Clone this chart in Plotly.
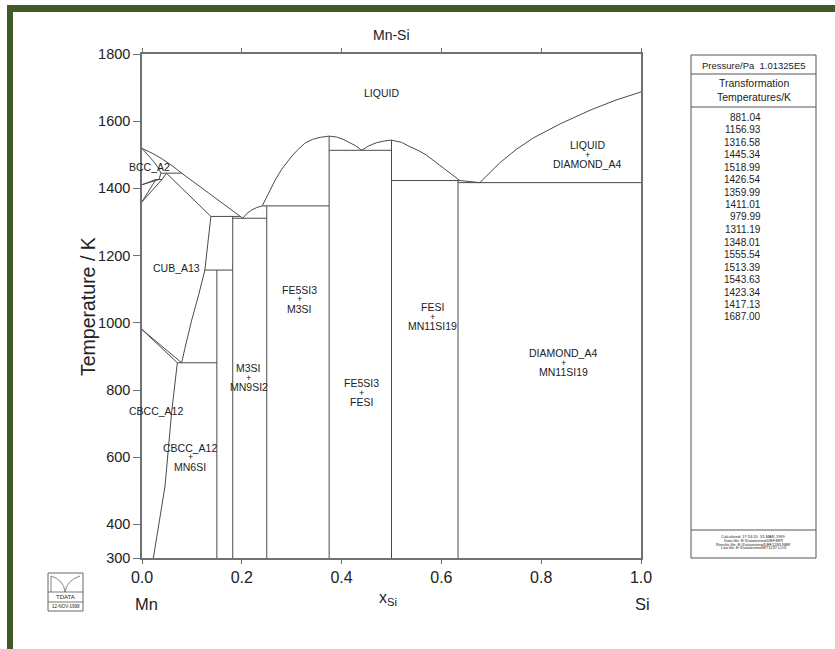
import plotly.graph_objects as go

# ---------------- data ----------------
x_ticks = [0.0, 0.2, 0.4, 0.6, 0.8, 1.0]
x_tick_labels = ["0.0", "0.2", "0.4", "0.6", "0.8", "1.0"]
y_ticks = [300, 400, 600, 800, 1000, 1200, 1400, 1600, 1800]

transformation_temps = ["881.04", "1156.93", "1316.58", "1445.34", "1518.99", "1426.54",
                        "1359.99", "1411.01", "979.99", "1311.19", "1348.01", "1555.54",
                        "1513.39", "1543.63", "1423.34", "1417.13", "1687.00"]

# stoichiometric compounds: composition and upper temperature
compound_x = [0.15, 0.1818, 0.25, 0.375, 0.5, 0.6333]
compound_top = [1156.93, 1316.58, 1348.01, 1555.54, 1543.63, 1423.34]

# invariant (horizontal) lines
inv_T = [881.04, 1156.93, 1316.58, 1311.19, 1348.01, 1513.39, 1423.34, 1417.13, 1445.34, 1426.54]
inv_x_left = [0.0708, 0.126, 0.138, 0.1818, 0.241, 0.375, 0.5, 0.6333, 0.038, 0.028]
inv_x_right = [0.15, 0.1818, 0.196, 0.25, 0.375, 0.5, 0.637, 1.0, 0.0795, 0.040]

# phase boundary curves
liq_mn_x = [0, 0.02, 0.04, 0.06, 0.0795, 0.10, 0.13, 0.16, 0.196, 0.202]
liq_mn_T = [1518.99, 1505, 1488, 1468, 1445.34, 1423, 1389, 1355, 1316.58, 1311.19]
liq_m3si_x = [0.202, 0.21, 0.22, 0.23, 0.241]
liq_m3si_T = [1311.19, 1325, 1336, 1343, 1348.01]
liq_m5s3_x = [0.241, 0.255, 0.267, 0.28, 0.297, 0.312, 0.327, 0.342, 0.357, 0.375,
              0.39, 0.403, 0.415, 0.428, 0.44]
liq_m5s3_T = [1348.01, 1390, 1425, 1457, 1490, 1515, 1535, 1546, 1552, 1555.54,
              1553, 1546, 1538, 1527, 1513.39]
liq_fesi_x = [0.44, 0.455, 0.47, 0.485, 0.5, 0.52, 0.537, 0.555, 0.57, 0.587, 0.604, 0.62, 0.637, 0.677]
liq_fesi_T = [1513.39, 1527, 1536, 1541, 1543.63, 1537, 1524, 1512, 1499, 1480, 1460, 1442, 1423.34, 1417.13]
liq_si_x = [0.677, 0.69, 0.70, 0.717, 0.75, 0.784, 0.838, 0.9, 0.95, 1.0]
liq_si_T = [1417.13, 1437, 1452, 1476, 1516, 1550, 1592, 1634, 1663, 1687.0]

bcc_sol_x = [0, 0.012, 0.024, 0.033, 0.038]
bcc_sol_T = [1518.99, 1500, 1479, 1460, 1445.34]
cub_sol_x = [0.049, 0.138]
cub_sol_T = [1445.34, 1316.58]
bcc_cub_x = [0.038, 0.034]
bcc_cub_T = [1445.34, 1426.54]
cub_left_x = [0.049, 0.040]
cub_left_T = [1445.34, 1426.54]
fcc1_x = [0, 0.028]
fcc1_T = [1359.99, 1426.54]
fcc2_x = [0, 0.040]
fcc2_T = [1359.99, 1426.54]
bccfcc1_x = [0, 0.034]
bccfcc1_T = [1411.01, 1426.54]
bccfcc2_x = [0, 0.028]
bccfcc2_T = [1411.01, 1426.54]
cub_solvus_x = [0.138, 0.132, 0.126, 0.113, 0.0996, 0.086, 0.0795]
cub_solvus_T = [1316.58, 1240, 1156.93, 1080, 1008, 924, 881.04]
cbcc_cub_up_x = [0, 0.0795]
cbcc_cub_up_T = [979.99, 881.04]
cbcc_cub_lo_x = [0, 0.0708]
cbcc_cub_lo_T = [979.99, 881.04]
cbcc_solvus_x = [0.0708, 0.0595, 0.046, 0.033, 0.0227]
cbcc_solvus_T = [881.04, 735, 512, 393, 300]

# region labels
single_text = ["LIQUID", "BCC_A2", "CUB_A13", "CBCC_A12"]
single_x = [0.479, 0.015, 0.0695, 0.0277]
single_T = [1684, 1465, 1162, 738]

pair_top = ["CBCC_A12", "M3SI", "FE5SI3", "FE5SI3", "FESI", "DIAMOND_A4", "LIQUID"]
pair_bottom = ["MN6SI", "MN9SI2", "M3SI", "FESI", "MN11SI19", "MN11SI19", "DIAMOND_A4"]
pair_x = [0.0968, 0.2144, 0.3166, 0.4389, 0.583, 0.8437, 0.8918]
pair_T = [601.5, 837.8, 1071, 794, 1020, 883, 1502]

info_lines = ["Calculated: 17:53:20  31-MAR-1999",
              "Data file: E:\\Datatesting\\DEF.MPI",
              "Results file: E:\\Datatesting\\DEF1283.NBR",
              "Log file: E:\\Datatesting\\MT1237.LOG"]

# ---------------- figure ----------------
W, H = 835, 649
L, R, T, B = 142, 641, 54, 558
FONT = "Liberation Sans, Arial, sans-serif"
LINE = "#4a4a4a"
AX = "#707070"


def P(px, py):
    return (px - L) / (R - L), (B - py) / (B - T)


fig = go.Figure()


def add(xs, ts):
    fig.add_trace(go.Scatter(x=xs, y=ts, mode="lines", line=dict(color=LINE, width=1),
                             hoverinfo="skip", showlegend=False))


for cx, ct in zip(compound_x, compound_top):
    add([cx, cx], [300, ct])
for t, a, b in zip(inv_T, inv_x_left, inv_x_right):
    add([a, b], [t, t])
for xs, ts in [(liq_mn_x, liq_mn_T), (liq_m3si_x, liq_m3si_T), (liq_m5s3_x, liq_m5s3_T),
               (liq_fesi_x, liq_fesi_T), (liq_si_x, liq_si_T), (bcc_sol_x, bcc_sol_T),
               (cub_sol_x, cub_sol_T), (bcc_cub_x, bcc_cub_T), (cub_left_x, cub_left_T),
               (fcc1_x, fcc1_T), (fcc2_x, fcc2_T), (bccfcc1_x, bccfcc1_T), (bccfcc2_x, bccfcc2_T),
               (cub_solvus_x, cub_solvus_T), (cbcc_cub_up_x, cbcc_cub_up_T),
               (cbcc_cub_lo_x, cbcc_cub_lo_T), (cbcc_solvus_x, cbcc_solvus_T)]:
    add(xs, ts)

ann = []
LF = dict(family=FONT, size=10.5, color="#222")
for s, x, t in zip(single_text, single_x, single_T):
    ann.append(dict(x=x, y=t, xref="x", yref="y", text=s, showarrow=False, font=LF))
for a, b, x, t in zip(pair_top, pair_bottom, pair_x, pair_T):
    ann.append(dict(x=x, y=t, xref="x", yref="y", text=a, showarrow=False, font=LF,
                    yshift=9))
    ann.append(dict(x=x, y=t, xref="x", yref="y", text="+", showarrow=False,
                    font=dict(family=FONT, size=9, color="#222"), height=7))
    ann.append(dict(x=x, y=t, xref="x", yref="y", text=b, showarrow=False, font=LF,
                    yshift=-10))


def pann(px, py, text, size, xanchor="center", color="#222", height=None):
    x, y = P(px, py)
    d = dict(x=x, y=y, xref="paper", yref="paper", text=text, showarrow=False,
             xanchor=xanchor, yanchor="middle",
             font=dict(family=FONT, size=size, color=color))
    if height:
        d["height"] = height
    ann.append(d)


pann(391, 35, "Mn-Si", 14)
pann(388, 598, "x<sub>Si</sub>", 16)
pann(146, 604, "Mn", 16.5)
pann(642, 604, "Si", 16.5)
x0, y0 = P(88, 307)
ann.append(dict(x=x0, y=y0, xref="paper", yref="paper", text="Temperature / K", showarrow=False,
                xanchor="center", yanchor="middle",
                textangle=-90, font=dict(family=FONT, size=19.5, color="#222")))

# right info panel
pann(753.5, 65, "Pressure/Pa&nbsp;&nbsp;1.01325E5", 9.5)
pann(753.5, 83, "Transformation", 10.5)
pann(753.5, 97, "Temperatures/K", 10.5)
for i, v in enumerate(transformation_temps):
    pann(763, 117 + 12.5 * i, v, 10, xanchor="right")
for i, s in enumerate(info_lines):
    pann(753.5, 536 + 3.8 * i, s, 4, height=4)

# logo texts
pann(65.5, 596.5, "TDATA", 6)
pann(65.5, 606.5, "12-NOV-1998", 4.5)

shapes = []


def prect(x0p, y0p, x1p, y1p, line=None, fill=None):
    a, b = P(x0p, y0p)
    c, d = P(x1p, y1p)
    shapes.append(dict(type="rect", xref="paper", yref="paper", x0=a, y0=b, x1=c, y1=d,
                       line=line or dict(width=0), fillcolor=fill, layer="above"))


def pline(x0p, y0p, x1p, y1p, color="#555", width=1):
    a, b = P(x0p, y0p)
    c, d = P(x1p, y1p)
    shapes.append(dict(type="line", xref="paper", yref="paper", x0=a, y0=b, x1=c, y1=d,
                       line=dict(color=color, width=width)))


# green frame
GREEN = "#3f5c28"
prect(7, 5, 836, 12, fill=GREEN)
prect(7, 5, 13, 650, fill=GREEN)

# info panel box
prect(691, 55, 816, 558, line=dict(color="#555", width=1))
pline(691, 74, 816, 74)
pline(691, 107, 816, 107)
pline(691, 530, 816, 530)

# logo box
prect(48, 573, 83, 611, line=dict(color="#666", width=1))
pline(48, 592, 83, 592, width=0.8)
pline(48, 602, 83, 602, width=0.8)


def ppath(pts):
    s = ""
    for cmd, coords in pts:
        parts = []
        for (px, py) in coords:
            a, b = P(px, py)
            parts.append(f"{a},{b}")
        s += cmd + " " + " ".join(parts) + " "
    return s


shapes.append(dict(type="path", xref="paper", yref="paper", line=dict(color="#666", width=0.8),
                   path=ppath([("M", [(51, 576)]), ("L", [(51, 592)]),
                               ("M", [(51, 576)]), ("Q", [(64, 580), (65, 592)]),
                               ("M", [(65, 592)]), ("Q", [(67, 580), (80, 576)])])))

fig.update_layout(
    width=W, height=H,
    margin=dict(l=L, r=W - R, t=T, b=H - B, autoexpand=False),
    paper_bgcolor="white", plot_bgcolor="white",
    font=dict(family=FONT, size=16, color="#222"),
    xaxis=dict(range=[0, 1], tickvals=x_ticks, ticktext=x_tick_labels, showgrid=False,
               zeroline=False, showline=True, linecolor=AX, linewidth=1.5, ticks="outside",
               ticklen=4, tickcolor=AX, mirror="ticks", tickfont=dict(size=16)),
    yaxis=dict(range=[300, 1800], tickvals=y_ticks, showgrid=False, zeroline=False,
               showline=True, linecolor=AX, linewidth=1.5, ticks="outside", ticklen=7,
               tickcolor=AX, mirror=True, tickfont=dict(size=14.5)),
    annotations=ann, shapes=shapes,
)

fig.write_html("out.html")
